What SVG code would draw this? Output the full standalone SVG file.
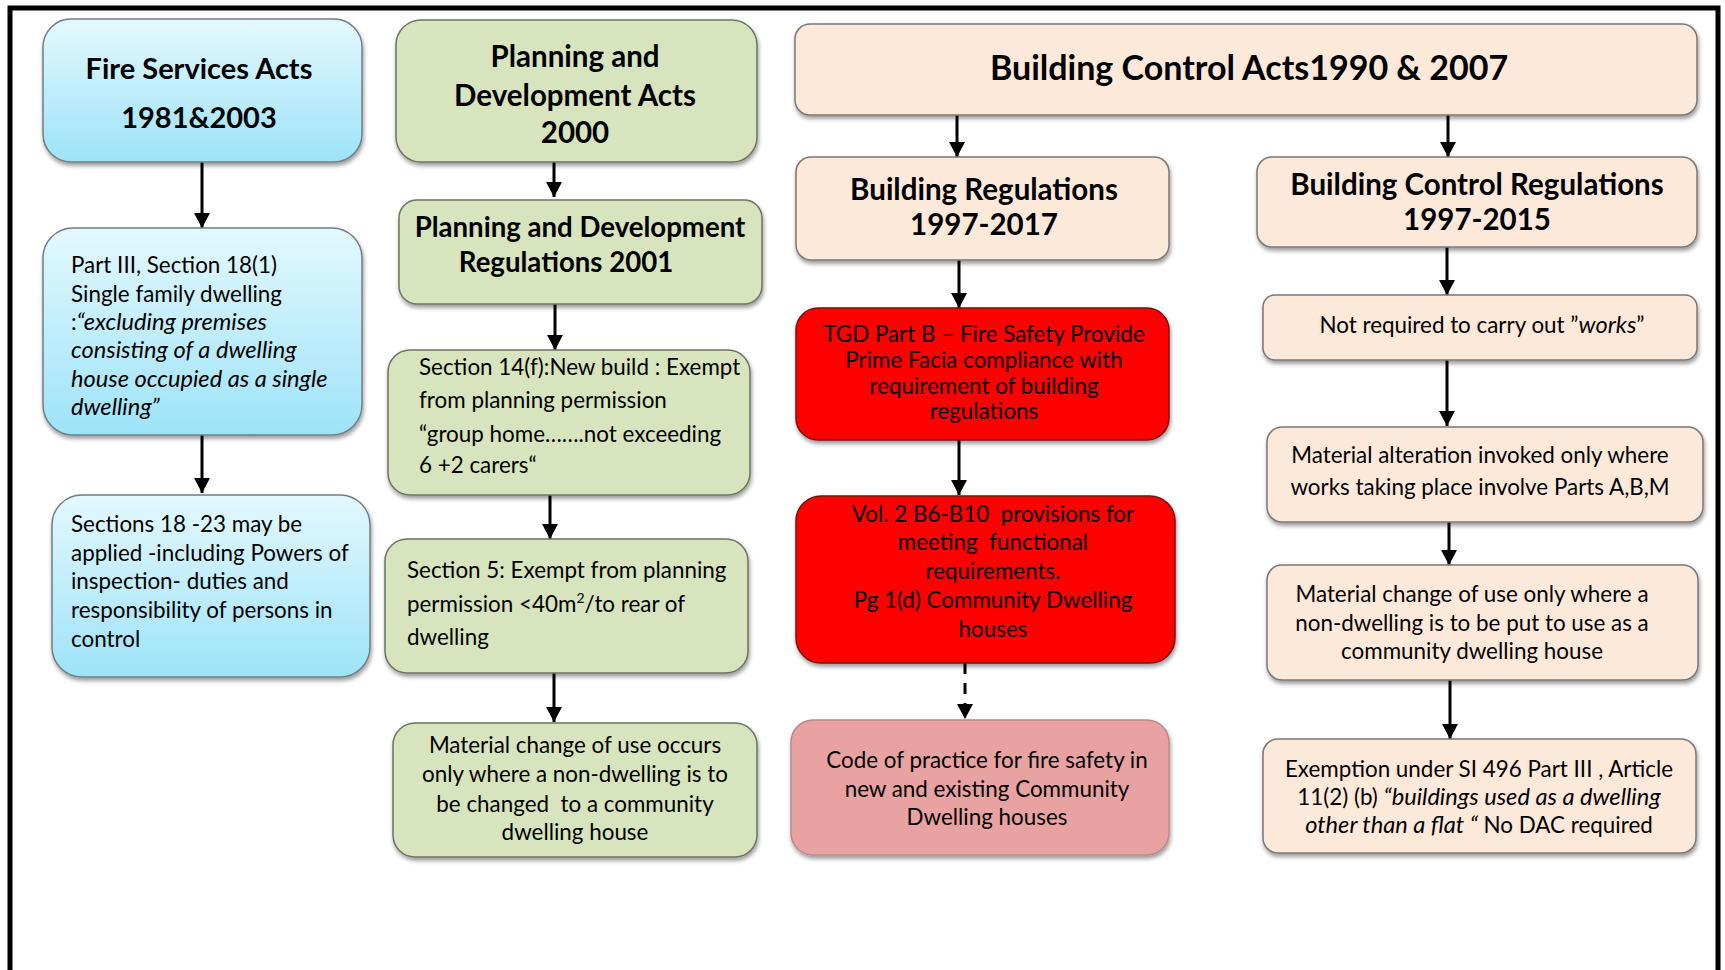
<svg xmlns="http://www.w3.org/2000/svg" width="1725" height="970" viewBox="0 0 1725 970">
<defs>
<linearGradient id="blueGrad" x1="0" y1="0" x2="0" y2="1">
<stop offset="0" stop-color="#E4F8FE"/>
<stop offset="1" stop-color="#9DE3F8"/>
</linearGradient>
<filter id="shadow" x="-10%" y="-10%" width="120%" height="130%">
<feDropShadow dx="1" dy="3" stdDeviation="2" flood-color="#000" flood-opacity="0.4"/>
</filter>
<marker id="arrow" markerUnits="userSpaceOnUse" markerWidth="18" markerHeight="18" viewBox="0 0 18 18" refX="15" refY="9" orient="auto">
<path d="M0,1 L15,9 L0,17 Z" fill="#000"/>
</marker>
</defs>
<style>
.box{filter:url(#shadow);stroke-width:1.5}
.blue{fill:url(#blueGrad);stroke:#6f7f86}
.green{fill:#D7E4BD;stroke:#6d7460}
.peach{fill:#FDE9D9;stroke:#7d7773}
.red{fill:#FF0000;stroke:#7a1010}
.pink{fill:#E8A2A2;stroke:#b88a8a}
text{font-family:Lato,"Liberation Sans",sans-serif;fill:#000}
.t{font-size:22.4px}
.c{text-anchor:middle}
.b{font-weight:bold}
.i{font-style:italic;font-size:23.6px}
.conn{stroke:#000;stroke-width:3;fill:none;marker-end:url(#arrow)}
.dash{stroke-dasharray:11 9}
</style>
<path d="M10,970 V8 H1718 V970" fill="none" stroke="#000" stroke-width="5"/>

<g id="connectors">
<line class="conn" x1="202" y1="162" x2="202" y2="228"/>
<line class="conn" x1="202" y1="435" x2="202" y2="493"/>
<line class="conn" x1="554" y1="162" x2="554" y2="197"/>
<line class="conn" x1="555" y1="304" x2="555" y2="350"/>
<line class="conn" x1="550" y1="495" x2="550" y2="539"/>
<line class="conn" x1="554" y1="673" x2="554" y2="722"/>
<line class="conn" x1="957" y1="115" x2="957" y2="157"/>
<line class="conn" x1="1448" y1="115" x2="1448" y2="157"/>
<line class="conn" x1="959" y1="260" x2="959" y2="308"/>
<line class="conn" x1="959" y1="440" x2="959" y2="495"/>
<line class="conn dash" x1="965" y1="663" x2="965" y2="719"/>
<line class="conn" x1="1447" y1="247" x2="1447" y2="295"/>
<line class="conn" x1="1447" y1="360" x2="1447" y2="426"/>
<line class="conn" x1="1449" y1="522" x2="1449" y2="565"/>
<line class="conn" x1="1450" y1="680" x2="1450" y2="739"/>
</g>

<g id="fire-acts">
<rect class="box blue" x="43" y="19" width="319" height="143" rx="28"/>
<text class="b c" font-size="29"><tspan x="199" y="79">Fire Services Acts</tspan><tspan x="199" y="128">1981&amp;2003</tspan></text>
</g>
<g id="fire-s18">
<rect class="box blue" x="43" y="228" width="319" height="207" rx="30"/>
<text class="t"><tspan x="71" y="273">Part III, Section 18(1)</tspan><tspan x="71" y="302">Single family dwelling</tspan><tspan x="71" y="330">:<tspan class="i">“excluding premises</tspan></tspan><tspan class="i" x="71" y="358">consisting of a dwelling</tspan><tspan class="i" x="71" y="387">house occupied as a single</tspan><tspan class="i" x="71" y="415">dwelling”</tspan></text>
</g>
<g id="fire-s1823">
<rect class="box blue" x="52" y="495" width="318" height="182" rx="30"/>
<text class="t"><tspan x="71" y="532">Sections 18 -23 may be</tspan><tspan x="71" y="561">applied -including Powers of</tspan><tspan x="71" y="589">inspection- duties and</tspan><tspan x="71" y="618">responsibility of persons in</tspan><tspan x="71" y="647">control</tspan></text>
</g>

<g id="pd-acts">
<rect class="box green" x="396" y="20" width="361" height="142" rx="25"/>
<text class="b c" font-size="29.5"><tspan x="575" y="67">Planning and</tspan><tspan x="575" y="106">Development Acts</tspan><tspan x="575" y="143">2000</tspan></text>
</g>
<g id="pd-regs">
<rect class="box green" x="399" y="200" width="363" height="104" rx="18"/>
<text class="b c" font-size="27.6"><tspan x="580" y="237">Planning and Development</tspan><tspan x="566" y="272">Regulations 2001</tspan></text>
</g>
<g id="pd-s14">
<rect class="box green" x="388" y="350" width="362" height="145" rx="22"/>
<text class="t"><tspan x="419" y="375">Section 14(f):New build : Exempt</tspan><tspan x="419" y="408">from planning permission</tspan><tspan x="419" y="442">“group home…….not exceeding</tspan><tspan x="419" y="473">6 +2 carers“</tspan></text>
</g>
<g id="pd-s5">
<rect class="box green" x="385" y="539" width="363" height="134" rx="22"/>
<text class="t"><tspan x="407" y="578">Section 5: Exempt from planning</tspan><tspan x="407" y="612">permission &lt;40m<tspan font-size="14" dy="-9">2</tspan><tspan dy="9">/to rear of</tspan></tspan><tspan x="407" y="645">dwelling</tspan></text>
</g>
<g id="pd-mcu">
<rect class="box green" x="393" y="723" width="364" height="134" rx="22"/>
<text class="t c"><tspan x="575" y="753">Material change of use occurs</tspan><tspan x="575" y="782">only where a non-dwelling is to</tspan><tspan x="575" y="812">be changed&#160; to a community</tspan><tspan x="575" y="840">dwelling house</tspan></text>
</g>

<g id="bc-acts">
<rect class="box peach" x="795" y="24" width="902" height="91" rx="15"/>
<text class="b c" font-size="34" x="1249" y="80">Building Control Acts1990 &amp; 2007</text>
</g>
<g id="bc-regs">
<rect class="box peach" x="796" y="157" width="373" height="103" rx="15"/>
<text class="b c" font-size="29.5"><tspan x="984" y="200">Building Regulations</tspan><tspan x="984" y="235">1997-2017</tspan></text>
</g>
<g id="bc-tgd">
<rect class="box red" x="796" y="308" width="373" height="132" rx="22"/>
<text class="t c"><tspan x="984" y="342">TGD Part B – Fire Safety Provide</tspan><tspan x="984" y="368">Prime Facia compliance with</tspan><tspan x="984" y="394">requirement of building</tspan><tspan x="984" y="419">regulations</tspan></text>
</g>
<g id="bc-vol2">
<rect class="box red" x="796" y="496" width="379" height="167" rx="25"/>
<text class="t c"><tspan x="993" y="522">Vol. 2 B6-B10&#160; provisions for</tspan><tspan x="993" y="550">meeting&#160; functional</tspan><tspan x="993" y="579">requirements.</tspan><tspan x="993" y="608">Pg 1(d) Community Dwelling</tspan><tspan x="993" y="637">houses</tspan></text>
</g>
<g id="bc-code">
<rect class="box pink" x="791" y="720" width="378" height="135" rx="22"/>
<text class="t c"><tspan x="987" y="768">Code of practice for fire safety in</tspan><tspan x="987" y="797">new and existing Community</tspan><tspan x="987" y="825">Dwelling houses</tspan></text>
</g>

<g id="bcr-regs">
<rect class="box peach" x="1257" y="157" width="440" height="90" rx="15"/>
<text class="b c" font-size="29.5"><tspan x="1477" y="195">Building Control Regulations</tspan><tspan x="1477" y="230">1997-2015</tspan></text>
</g>
<g id="bcr-works">
<rect class="box peach" x="1263" y="295" width="434" height="65" rx="12"/>
<text class="t c" x="1482" y="333">Not required to carry out ”<tspan class="i">works</tspan>”</text>
</g>
<g id="bcr-alter">
<rect class="box peach" x="1267" y="427" width="436" height="95" rx="15"/>
<text class="t c"><tspan x="1480" y="463">Material alteration invoked only where</tspan><tspan x="1480" y="495">works taking place involve Parts A,B,M</tspan></text>
</g>
<g id="bcr-change">
<rect class="box peach" x="1267" y="565" width="431" height="115" rx="15"/>
<text class="t c"><tspan x="1472" y="602">Material change of use only where a</tspan><tspan x="1472" y="631">non-dwelling is to be put to use as a</tspan><tspan x="1472" y="659">community dwelling house</tspan></text>
</g>
<g id="bcr-exempt">
<rect class="box peach" x="1263" y="739" width="433" height="114" rx="15"/>
<text class="t c"><tspan x="1479" y="777">Exemption under SI 496 Part III , Article</tspan><tspan x="1479" y="805">11(2) (b) <tspan class="i">“buildings used as a dwelling</tspan></tspan><tspan x="1479" y="833"><tspan class="i">other than a flat “</tspan> No DAC required</tspan></text>
</g>
</svg>
